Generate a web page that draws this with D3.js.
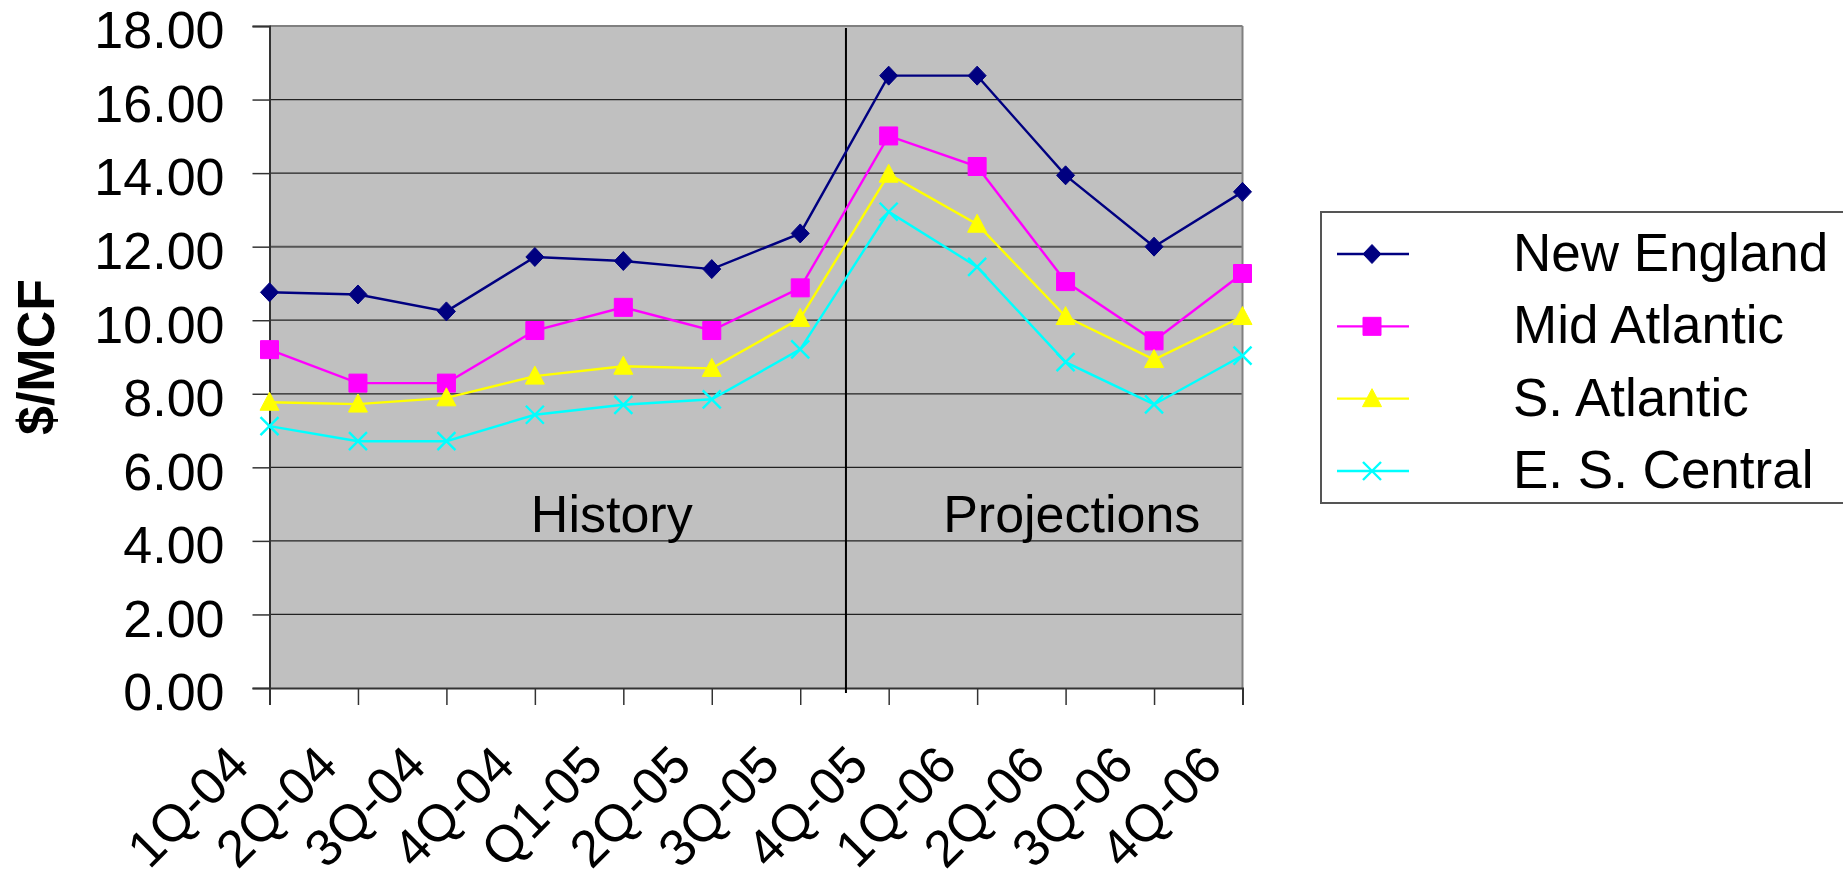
<!DOCTYPE html>
<html>
<head>
<meta charset="utf-8">
<script src="https://cdn.jsdelivr.net/npm/d3@7"></script>
<style>
  html, body { margin: 0; padding: 0; background: #fff; }
  svg { display: block; }
  text { font-family: "Liberation Sans", Arial, sans-serif; fill: #000; }
</style>
</head>
<body>
<svg id="chart" width="1843" height="880"></svg>
<script>
const categories = ["1Q-04","2Q-04","3Q-04","4Q-04","Q1-05","2Q-05","3Q-05","4Q-05","1Q-06","2Q-06","3Q-06","4Q-06"];
const newEngland  = [10.76, 10.70, 10.24, 11.72, 11.61, 11.39, 12.36, 16.65, 16.65, 13.94, 12.00, 13.49];
const midAtlantic = [9.20, 8.29, 8.29, 9.72, 10.35, 9.72, 10.88, 15.01, 14.18, 11.05, 9.44, 11.27];
const sAtlantic   = [7.77, 7.72, 7.89, 8.48, 8.75, 8.69, 10.05, 13.97, 12.61, 10.10, 8.93, 10.10];
const esCentral   = [7.12, 6.71, 6.71, 7.43, 7.70, 7.85, 9.21, 12.95, 11.45, 8.86, 7.71, 9.04];
const seriesNames = ["New England", "Mid Atlantic", "S. Atlantic", "E. S. Central"];
const yTicks = [0, 2, 4, 6, 8, 10, 12, 14, 16, 18];
const yAxisTitle = "$/MCF";
const periodLabels = ["History", "Projections"];

const series = [
  { name: seriesNames[0], values: newEngland,  color: "#000080", marker: "diamond" },
  { name: seriesNames[1], values: midAtlantic, color: "#FF00FF", marker: "square" },
  { name: seriesNames[2], values: sAtlantic,   color: "#FFFF00", marker: "triangle" },
  { name: seriesNames[3], values: esCentral,   color: "#00FFFF", marker: "x" }
];

const svg = d3.select("#chart");
const plot = { left: 269.5, right: 1242.5, top: 26, bottom: 688 };

const x = d3.scalePoint().domain(categories).range([plot.left, plot.right]).padding(0);
const y = d3.scaleLinear().domain([0, 18]).range([plot.bottom, plot.top]);

// background
svg.append("rect")
  .attr("x", plot.left).attr("y", plot.top)
  .attr("width", plot.right - plot.left).attr("height", plot.bottom - plot.top)
  .attr("fill", "#C0C0C0");

// gridlines
svg.append("g").selectAll("line")
  .data(yTicks.filter(d => d > 0 && d < 18))
  .join("line")
  .attr("x1", plot.left).attr("x2", plot.right)
  .attr("y1", d => y(d)).attr("y2", d => y(d))
  .attr("stroke", d => d === 12 ? "#555" : "#222")
  .attr("stroke-width", d => d === 12 ? 2 : 1.3);

// top & right border
svg.append("line").attr("x1", plot.left).attr("x2", plot.right).attr("y1", plot.top).attr("y2", plot.top)
  .attr("stroke", "#808080").attr("stroke-width", 2);
svg.append("line").attr("x1", plot.right).attr("x2", plot.right).attr("y1", plot.top).attr("y2", plot.bottom)
  .attr("stroke", "#808080").attr("stroke-width", 2);

// y axis
const yAxis = d3.axisLeft(y).tickValues(yTicks).tickSize(17).tickPadding(28)
  .tickFormat(d3.format(".2f"));
const gy = svg.append("g").attr("transform", `translate(${plot.left},0)`).call(yAxis);
gy.select(".domain").attr("stroke", "#333").attr("stroke-width", 2);
gy.selectAll(".tick line").attr("stroke", "#333").attr("stroke-width", 1.5);
gy.selectAll(".tick text")
  .attr("font-size", 52).attr("font-family", "Liberation Sans, Arial, sans-serif")
  .attr("fill", "#000").attr("dy", "0.42em");

// x axis
const xAxis = d3.axisBottom(x).tickSize(17).tickFormat("");
const gx = svg.append("g").attr("transform", `translate(0,${plot.bottom})`).call(xAxis);
gx.select(".domain").attr("stroke", "#333").attr("stroke-width", 2);
gx.selectAll(".tick line").attr("stroke", "#333").attr("stroke-width", 1.5);

svg.append("g").selectAll("text")
  .data(categories)
  .join("text")
  .attr("transform", d => `translate(${x(d) - 18},${plot.bottom + 80}) rotate(-45)`)
  .attr("text-anchor", "end")
  .attr("font-size", 52)
  .text(d => d);

// y axis title
svg.append("text")
  .attr("transform", `translate(54,${(plot.top + plot.bottom) / 2}) rotate(-90)`)
  .attr("text-anchor", "middle")
  .attr("font-size", 52).attr("font-weight", "bold")
  .text(yAxisTitle);

// divider between history and projections
const divX = (x(categories[6]) + x(categories[7])) / 2 + 1.5;
svg.append("line")
  .attr("x1", divX).attr("x2", divX)
  .attr("y1", plot.top + 2).attr("y2", plot.bottom + 5)
  .attr("stroke", "#000").attr("stroke-width", 2);

// period labels
svg.append("text").attr("x", x(categories[3]) - 4).attr("y", 532)
  .attr("font-size", 52).text(periodLabels[0]);
svg.append("text").attr("x", x(categories[8]) - 34).attr("y", 532)
  .attr("font-size", 52).text(periodLabels[1]);

// markers
function markerPath(type) {
  const s = 9;
  switch (type) {
    case "diamond": return `M0,${-s - 0.5}L${s},0L0,${s + 0.5}L${-s},0Z`;
    case "square": return `M${-s},${-s}H${s}V${s}H${-s}Z`;
    case "triangle": return `M0,${-s - 1}L${s + 0.5},${s - 1}L${-s - 0.5},${s - 1}Z`;
    case "x": return `M${-s},${-s}L${s},${s}M${s},${-s}L${-s},${s}`;
  }
}

const line = d3.line().x((d, i) => x(categories[i])).y(d => y(d));

series.forEach(s => {
  const g = svg.append("g");
  g.append("path").attr("d", line(s.values))
    .attr("fill", "none").attr("stroke", s.color).attr("stroke-width", 2.4);
  g.selectAll("path.m").data(s.values).join("path")
    .attr("class", "m")
    .attr("transform", (d, i) => `translate(${x(categories[i])},${y(d)})`)
    .attr("d", markerPath(s.marker))
    .attr("fill", s.marker === "x" ? "none" : s.color)
    .attr("stroke", s.color)
    .attr("stroke-width", s.marker === "x" ? 2.4 : 1);
});

// legend
const leg = svg.append("g");
leg.append("rect").attr("x", 1321).attr("y", 212).attr("width", 540).attr("height", 291)
  .attr("fill", "#fff").attr("stroke", "#555").attr("stroke-width", 2);
const rowY = d3.scalePoint().domain(seriesNames).range([254, 471]);
series.forEach(s => {
  const cy = rowY(s.name);
  leg.append("line").attr("x1", 1337).attr("x2", 1409).attr("y1", cy).attr("y2", cy)
    .attr("stroke", s.color).attr("stroke-width", 2.4);
  leg.append("path").attr("transform", `translate(1372,${cy})`)
    .attr("d", markerPath(s.marker))
    .attr("fill", s.marker === "x" ? "none" : s.color)
    .attr("stroke", s.color).attr("stroke-width", s.marker === "x" ? 2.4 : 1);
  leg.append("text").attr("x", 1513).attr("y", cy + 17)
    .attr("font-size", 53).text(s.name);
});
</script>
</body>
</html>
